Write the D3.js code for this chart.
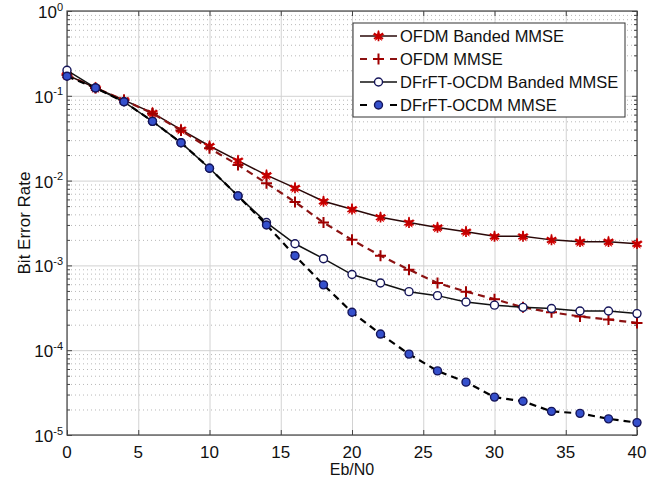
<!DOCTYPE html>
<html>
<head>
<meta charset="utf-8">
<script src="https://cdn.jsdelivr.net/npm/d3@7"></script>
<style>
  body { margin: 0; background: #fff; }
  svg text { font-family: "Liberation Sans", Arial, sans-serif; fill: #111; }
</style>
</head>
<body>
<div id="chart"></div>
<script>
// values
const ebn0 = [0, 2, 4, 6, 8, 10, 12, 14, 16, 18, 20, 22, 24, 26, 28, 30, 32, 34, 36, 38, 40];
const ofdmBanded = [0.176, 0.124, 0.089, 0.063, 0.040, 0.0256, 0.0172, 0.0116, 0.0082, 0.0057, 0.0046, 0.0037,
  0.0032, 0.0028, 0.0025, 0.0022, 0.0022, 0.0020, 0.0019, 0.0019, 0.0018];
const ofdmMmse = [0.176, 0.124, 0.089, 0.062, 0.039, 0.024, 0.0153, 0.0093, 0.0056, 0.0032, 0.0020, 0.0013,
  0.00089, 0.00062, 0.00049, 0.00040, 0.00032, 0.00028, 0.00025, 0.00023, 0.00021];
const ocdmBanded = [0.20, 0.124, 0.085, 0.050, 0.028, 0.014, 0.0066, 0.0032, 0.0018, 0.0012, 0.00078, 0.00062,
  0.00049, 0.00044, 0.00037, 0.00034, 0.00032, 0.00031, 0.00029, 0.00029, 0.00027];
const ocdmMmse = [0.17, 0.124, 0.085, 0.050, 0.028, 0.014, 0.0066, 0.0030, 0.0013, 0.00059, 0.00028, 0.000155,
  0.00009, 0.000057, 0.000042, 0.000028, 0.000025, 0.000019, 0.000018, 0.0000155, 0.000014];
const seriesNames = ["OFDM Banded MMSE", "OFDM MMSE", "DFrFT-OCDM Banded MMSE", "DFrFT-OCDM MMSE"];
const xTicks = [0, 5, 10, 15, 20, 25, 30, 35, 40];
const yDecades = [0, -1, -2, -3, -4, -5];

const W = 647, H = 490;
const m = { left: 67, right: 637, top: 11, bottom: 435 };

const svg = d3.select("#chart").append("svg")
  .attr("width", W).attr("height", H);

const x = d3.scaleLinear().domain([0, 40]).range([m.left, m.right]);
const y = d3.scaleLog().domain([1e-5, 1]).range([m.bottom, m.top]);

const majorY = yDecades.map(e => Math.pow(10, e));
const minorY = [];
yDecades.slice(1).forEach(e => {
  for (let k = 2; k <= 9; k++) minorY.push(k * Math.pow(10, e));
});

const plotW = m.right - m.left, plotH = m.bottom - m.top;

// grid: minor dotted, major solid
svg.append("g")
  .attr("transform", `translate(${m.left},0)`)
  .call(d3.axisLeft(y).tickValues(minorY).tickSize(-plotW).tickFormat(""))
  .call(g => g.select(".domain").remove())
  .selectAll("line").attr("stroke", "#b8b8b8").attr("stroke-dasharray", "1,3");

svg.append("g")
  .attr("transform", `translate(${m.left},0)`)
  .call(d3.axisLeft(y).tickValues(majorY).tickSize(-plotW).tickFormat(""))
  .call(g => g.select(".domain").remove())
  .selectAll("line").attr("stroke", "#d2d2d2");

svg.append("g")
  .attr("transform", `translate(0,${m.bottom})`)
  .call(d3.axisBottom(x).tickValues(xTicks).tickSize(-plotH).tickFormat(""))
  .call(g => g.select(".domain").remove())
  .selectAll("line").attr("stroke", "#d2d2d2");

// inward ticks on all four sides
function ticks(axis, tx, ty) {
  svg.append("g").attr("transform", `translate(${tx},${ty})`)
    .call(axis.tickFormat(""))
    .call(g => g.select(".domain").remove())
    .selectAll("line").attr("stroke", "#444");
}
ticks(d3.axisBottom(x).tickValues(xTicks).tickSize(-5), 0, m.bottom);
ticks(d3.axisTop(x).tickValues(xTicks).tickSize(-5), 0, m.top);
ticks(d3.axisLeft(y).tickValues(majorY).tickSize(-5), m.left, 0);
ticks(d3.axisRight(y).tickValues(majorY).tickSize(-5), m.right, 0);
ticks(d3.axisLeft(y).tickValues(minorY).tickSize(-3), m.left, 0);
ticks(d3.axisRight(y).tickValues(minorY).tickSize(-3), m.right, 0);

// frame
svg.append("rect")
  .attr("x", m.left).attr("y", m.top)
  .attr("width", plotW).attr("height", plotH)
  .attr("fill", "none").attr("stroke", "#444").attr("stroke-width", 1.2);

// tick labels
svg.append("g").selectAll("text")
  .data(xTicks).join("text")
  .attr("x", d => x(d)).attr("y", m.bottom + 23)
  .attr("text-anchor", "middle").attr("font-size", 17)
  .text(d => d);

const yl = svg.append("g").selectAll("text")
  .data(yDecades).join("text")
  .attr("x", m.left - 4).attr("y", d => y(Math.pow(10, d)) + 7)
  .attr("text-anchor", "end").attr("font-size", 17);
yl.append("tspan").text("10");
yl.append("tspan").attr("dy", -7.5).attr("font-size", 11).text(d => d);

svg.append("text")
  .attr("x", (m.left + m.right) / 2).attr("y", m.bottom + 40)
  .attr("text-anchor", "middle").attr("font-size", 16)
  .text("Eb/N0");

svg.append("text")
  .attr("transform", `translate(30,${(m.top + m.bottom) / 2}) rotate(-90)`)
  .attr("text-anchor", "middle").attr("font-size", 17)
  .text("Bit Error Rate");

// series
const series = [
  { name: seriesNames[0], values: ofdmBanded, line: "#2a0808", dash: null, marker: "star" },
  { name: seriesNames[1], values: ofdmMmse, line: "#8b1212", dash: "7,5", marker: "plus" },
  { name: seriesNames[2], values: ocdmBanded, line: "#111", dash: null, marker: "circle" },
  { name: seriesNames[3], values: ocdmMmse, line: "#000", dash: "7,5", marker: "dot" }
];

const line = d3.line().x(d => x(d[0])).y(d => y(d[1]));

function drawMarker(g, type) {
  if (type === "star") {
    g.append("path").attr("d", d3.symbol(d3.symbolStar, 45)())
      .attr("fill", "#e00000").attr("stroke", "none");
    g.append("path").attr("d", d3.symbol(d3.symbolAsterisk, 80)())
      .attr("fill", "none").attr("stroke", "#c00000").attr("stroke-width", 1.7);
  } else if (type === "plus") {
    g.append("path").attr("d", "M-5.5,0H5.5M0,-5.5V5.5")
      .attr("fill", "none").attr("stroke", "#a00000").attr("stroke-width", 2);
  } else if (type === "circle") {
    g.append("circle").attr("r", 4)
      .attr("fill", "#fff").attr("stroke", "#15155a").attr("stroke-width", 1.4);
  } else {
    g.append("circle").attr("r", 4)
      .attr("fill", "#3550cc").attr("stroke", "#15155a").attr("stroke-width", 1.4);
  }
}

series.forEach(s => {
  const pts = ebn0.map((e, i) => [e, s.values[i]]);
  svg.append("path").datum(pts)
    .attr("d", line)
    .attr("fill", "none")
    .attr("stroke", s.line)
    .attr("stroke-width", s.dash ? 2.2 : 1.5)
    .attr("stroke-dasharray", s.dash);
  svg.append("g").selectAll("g")
    .data(pts).join("g")
    .attr("transform", d => `translate(${x(d[0])},${y(d[1])})`)
    .each(function () { drawMarker(d3.select(this), s.marker); });
});

// legend
const lg = svg.append("g").attr("transform", "translate(353,23)");
lg.append("rect").attr("width", 272).attr("height", 94)
  .attr("fill", "#fff").attr("stroke", "#333").attr("stroke-width", 1);
series.forEach((s, i) => {
  const yy = 13 + i * 23;
  lg.append("line")
    .attr("x1", 7).attr("x2", 44).attr("y1", yy).attr("y2", yy)
    .attr("stroke", s.line).attr("stroke-width", s.dash ? 2.2 : 1.5)
    .attr("stroke-dasharray", s.dash ? "7,8" : null);
  const mk = lg.append("g").attr("transform", `translate(25.5,${yy})`);
  drawMarker(mk, s.marker);
  lg.append("text")
    .attr("x", 47).attr("y", yy + 6)
    .attr("font-size", 16.5)
    .text(s.name);
});
</script>
</body>
</html>
